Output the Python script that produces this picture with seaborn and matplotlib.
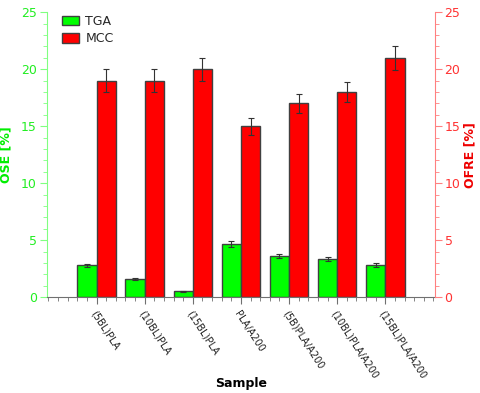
import pandas as pd
import matplotlib
matplotlib.use('Agg')
import matplotlib.pyplot as plt
from matplotlib.patches import Patch
from matplotlib.ticker import MultipleLocator
import seaborn as sns

# Values
samples = ['(5BL)PLA', '(10BL)PLA', '(15BL)PLA', 'PLA/A200',
           '(5B)PLA/A200', '(10BL)PLA/A200', '(15BL)PLA/A200']
tga = [2.78, 1.61, 0.52, 4.68, 3.6, 3.33, 2.83]
tga_err = [0.12, 0.08, 0.03, 0.25, 0.18, 0.15, 0.15]
mcc = [19.0, 19.0, 20.0, 15.0, 17.0, 18.0, 21.0]
mcc_err = [1.0, 1.0, 1.0, 0.75, 0.85, 0.9, 1.05]

green = '#00ff00'
red = '#ff0000'
edge = '#404040'

df = pd.DataFrame({
    'Sample': samples * 2,
    'value': tga + mcc,
    'Series': ['TGA'] * len(samples) + ['MCC'] * len(samples),
})

sns.set_style('white')
plt.rcParams['font.family'] = ['DejaVu Sans']

fig = plt.figure(figsize=(4.8, 3.93), dpi=100)
ax = fig.add_axes([0.097, 0.244, 0.809, 0.725])

sns.barplot(data=df, x='Sample', y='value', hue='Series', order=samples,
            hue_order=['TGA', 'MCC'], palette=[green, red], width=0.8,
            edgecolor=edge, linewidth=1, saturation=1, ax=ax, legend=False)

# error bars at the bar centres
bars = ax.patches
n = len(samples)
centres = [b.get_x() + b.get_width() / 2 for b in bars[:2 * n]]
ax.errorbar(centres[:n], tga, yerr=tga_err, fmt='none', ecolor='#333333',
            elinewidth=0.8, capsize=2, capthick=0.8)
ax.errorbar(centres[n:], mcc, yerr=mcc_err, fmt='none', ecolor='#333333',
            elinewidth=0.8, capsize=2, capthick=0.8)

ax.set_xlim(-1.04, 7.03)
ax.set_ylim(0, 25)
ax.yaxis.set_major_locator(MultipleLocator(5))
ax.yaxis.set_minor_locator(MultipleLocator(1))
ax.xaxis.set_minor_locator(MultipleLocator(0.2))

ax.spines['top'].set_visible(False)
ax.spines['right'].set_visible(False)
ax.spines['left'].set_color('#80ff80')
ax.spines['bottom'].set_color('#707070')

ax.tick_params(axis='y', which='both', direction='out', left=True,
               colors='#80ff80', labelcolor='#22ee22', labelsize=9, pad=2)
ax.tick_params(axis='y', which='major', length=5)
ax.tick_params(axis='y', which='minor', length=3)
ax.tick_params(axis='x', which='both', direction='out', bottom=True,
               colors='#707070', labelcolor='#222222')
ax.tick_params(axis='x', which='major', length=5, labelsize=7)
ax.tick_params(axis='x', which='minor', length=3)

ax.set_xticks(range(n))
ax.set_xticklabels(samples, rotation=-57, ha='left', va='top',
                   rotation_mode='anchor')

ax.set_xlabel('Sample', fontsize=9, fontweight='bold', color='black')
ax.xaxis.set_label_coords(0.5, -0.28)
ax.set_ylabel('OSE [%]', fontsize=9, fontweight='bold', color='#00ee00',
              labelpad=6)

# right axis for OFRE, same scale
ax2 = ax.twinx()
ax2.set_ylim(0, 25)
ax2.yaxis.set_major_locator(MultipleLocator(5))
ax2.yaxis.set_minor_locator(MultipleLocator(1))
for s in ['top', 'left', 'bottom']:
    ax2.spines[s].set_visible(False)
ax2.spines['right'].set_color('#ff8080')
ax2.tick_params(axis='y', which='both', direction='out', right=True,
                colors='#ff8080', labelcolor='#ff3333', labelsize=9, pad=2)
ax2.tick_params(axis='y', which='major', length=5)
ax2.tick_params(axis='y', which='minor', length=3)
ax2.set_ylabel('OFRE [%]', fontsize=9, fontweight='bold', color='#ee0000',
               rotation=90, labelpad=2)
ax2.grid(False)
ax.grid(False)

handles = [Patch(facecolor=green, edgecolor=edge, label='TGA'),
           Patch(facecolor=red, edgecolor=edge, label='MCC')]
ax.legend(handles=handles, loc='upper left', bbox_to_anchor=(0.01, 1.03),
          frameon=False, fontsize=9, handlelength=1.4, handleheight=0.8,
          labelspacing=0.35, handletextpad=0.5)

fig.savefig('out.png', dpi=100)
